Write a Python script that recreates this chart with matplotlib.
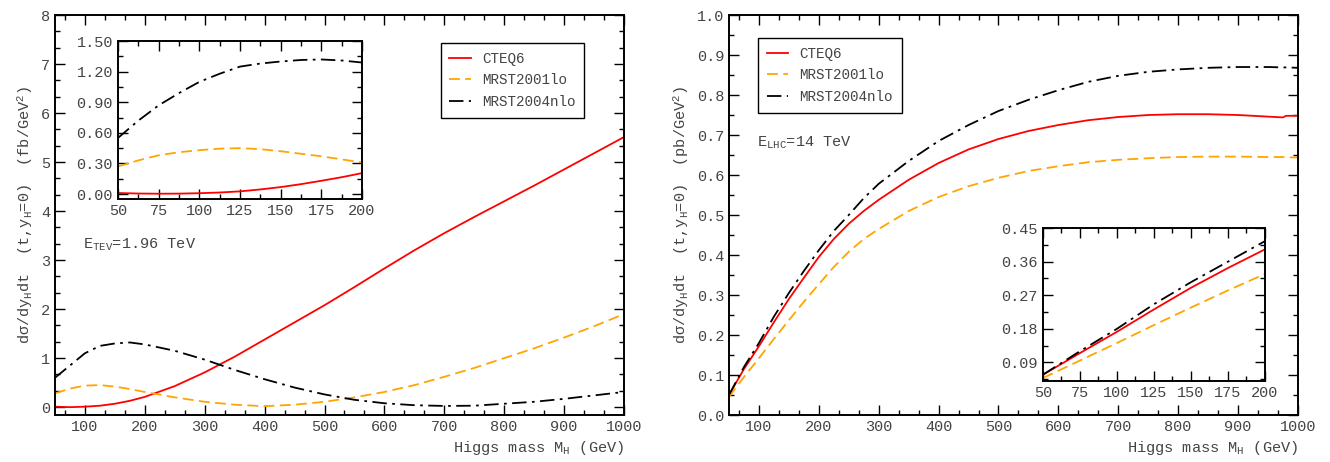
import matplotlib
matplotlib.use('Agg')
import matplotlib.pyplot as plt
from matplotlib.ticker import MultipleLocator, FixedLocator, FormatStrFormatter

# Tevatron, main panel (fb/GeV^2)
mh_tev = [50, 75, 100, 125, 150, 175, 200, 250, 300, 350, 400, 450, 500, 550,
          600, 650, 700, 750, 800, 850, 900, 950, 1000]
cteq6_tev = [0.01, 0.0, 0.01, 0.03, 0.07, 0.13, 0.21, 0.43, 0.71, 1.03, 1.38, 1.73,
             2.08, 2.45, 2.83, 3.2, 3.55, 3.88, 4.2, 4.52, 4.85, 5.18, 5.51]
mrst01_tev = [0.28, 0.38, 0.44, 0.45, 0.42, 0.37, 0.31, 0.2, 0.11, 0.05, 0.02, 0.05,
              0.11, 0.2, 0.31, 0.45, 0.62, 0.8, 1.0, 1.2, 1.42, 1.65, 1.9]
mrst04_tev = [0.6, 0.85, 1.1, 1.25, 1.3, 1.32, 1.28, 1.15, 0.97, 0.76, 0.57, 0.4,
              0.26, 0.15, 0.08, 0.04, 0.025, 0.03, 0.07, 0.11, 0.17, 0.24, 0.31]

# Tevatron, inset 50-200 GeV
mh_tev_in = [50, 62.5, 75, 87.5, 100, 112.5, 125, 137.5, 150, 162.5, 175, 187.5, 200]
cteq6_tev_in = [0.01, 0.005, 0.003, 0.004, 0.008, 0.015, 0.026, 0.045, 0.068, 0.097,
                0.13, 0.165, 0.205]
mrst01_tev_in = [0.27, 0.33, 0.38, 0.41, 0.43, 0.445, 0.45, 0.44, 0.42, 0.395, 0.37,
                 0.34, 0.31]
mrst04_tev_in = [0.55, 0.72, 0.87, 0.99, 1.1, 1.18, 1.25, 1.28, 1.30, 1.315, 1.32,
                 1.31, 1.29]

# LHC, main panel (pb/GeV^2)
mh_lhc = [50, 75, 100, 125, 150, 175, 200, 225, 250, 275, 300, 350, 400, 450, 500,
          550, 600, 650, 700, 750, 800, 850, 900, 950, 975, 980, 1000]
cteq6_lhc = [0.05, 0.115, 0.172, 0.232, 0.29, 0.343, 0.395, 0.44, 0.478, 0.51, 0.538,
             0.588, 0.63, 0.664, 0.69, 0.71, 0.725, 0.737, 0.745, 0.75, 0.752, 0.752,
             0.75, 0.746, 0.744, 0.748, 0.748]
mrst01_lhc = [0.045, 0.095, 0.142, 0.19, 0.237, 0.283, 0.327, 0.37, 0.408, 0.44, 0.465,
              0.51, 0.545, 0.572, 0.593, 0.61, 0.622, 0.632, 0.638, 0.642, 0.645,
              0.646, 0.646, 0.645, 0.645, 0.644, 0.644]
mrst04_lhc = [0.05, 0.12, 0.18, 0.246, 0.305, 0.36, 0.412, 0.46, 0.5, 0.542, 0.578,
              0.635, 0.685, 0.725, 0.76, 0.788, 0.812, 0.833, 0.848, 0.858, 0.864,
              0.868, 0.87, 0.87, 0.869, 0.869, 0.868]

# LHC, inset 50-200 GeV
mh_lhc_in = [50, 75, 100, 125, 150, 175, 200]
cteq6_lhc_in = [0.057, 0.115, 0.172, 0.232, 0.29, 0.343, 0.393]
mrst01_lhc_in = [0.048, 0.095, 0.142, 0.19, 0.237, 0.283, 0.327]
mrst04_lhc_in = [0.057, 0.12, 0.18, 0.246, 0.305, 0.36, 0.415]

labels = ['CTEQ6', 'MRST2001lo', 'MRST2004nlo']
colors = ['#ff0000', '#ffa500', 'black']
styles = ['-', (0, (6, 3)), (0, (8, 3, 1.5, 3))]

plt.rcParams['font.family'] = ['Liberation Mono', 'DejaVu Sans']
plt.rcParams['mathtext.default'] = 'regular'
plt.rcParams['font.size'] = 11
txtcol = '#444444'

fig = plt.figure(figsize=(13.3, 4.62), dpi=100)


def style_axes(ax, xmaj, xmin, ymaj, ymin):
    ax.xaxis.set_major_locator(xmaj)
    ax.xaxis.set_minor_locator(xmin)
    ax.yaxis.set_major_locator(ymaj)
    ax.yaxis.set_minor_locator(ymin)
    ax.tick_params(which='both', direction='in', top=True, right=True,
                   labelcolor=txtcol, width=1.0)
    ax.tick_params(which='major', length=7)
    ax.tick_params(which='minor', length=3.5)
    for s in ax.spines.values():
        s.set_linewidth(1.4)


def draw(ax, x, ys):
    for y, lab, c, ls in zip(ys, labels, colors, styles):
        ax.plot(x, y, color=c, linestyle=ls, linewidth=1.3, label=lab)


def add_legend(ax, anchor):
    leg = ax.legend(loc='upper left', bbox_to_anchor=anchor, fancybox=False,
                    edgecolor='black', framealpha=1, handlelength=1.5,
                    handletextpad=0.8, labelspacing=0.55, borderpad=0.6,
                    borderaxespad=0, prop={'size': 10.3})
    leg.get_frame().set_linewidth(1.0)
    for t in leg.get_texts():
        t.set_color(txtcol)


# ---- Tevatron panel
ax1 = fig.add_axes([0.04135, 0.1017, 0.4278, 0.8658])
draw(ax1, mh_tev, [cteq6_tev, mrst01_tev, mrst04_tev])
ax1.set_xlim(50, 1000)
ax1.set_ylim(-0.16, 8)
style_axes(ax1, FixedLocator(range(100, 1001, 100)), MultipleLocator(100 / 3),
           MultipleLocator(1), MultipleLocator(1 / 3))
ax1.set_xlabel('Higgs mass M$_{H}$ (GeV)', loc='right', color=txtcol)
ax1.set_ylabel('d$\\sigma$/dy$_{H}$dt  (t,y$_{H}$=0)  (fb/GeV$^{2}$)', color=txtcol)
ax1.text(0.049, 0.425, 'E$_{TEV}$=1.96 TeV', transform=ax1.transAxes, color=txtcol,
         va='center')
add_legend(ax1, (0.678, 0.93))

ins1 = fig.add_axes([0.0887, 0.569, 0.1835, 0.342])
draw(ins1, mh_tev_in, [cteq6_tev_in, mrst01_tev_in, mrst04_tev_in])
ins1.set_xlim(50, 200)
ins1.set_ylim(-0.05, 1.5)
style_axes(ins1, MultipleLocator(25), MultipleLocator(12.5),
           MultipleLocator(0.3), MultipleLocator(0.15))
ins1.yaxis.set_major_formatter(FormatStrFormatter('%.2f'))

# ---- LHC panel
ax2 = fig.add_axes([0.5481, 0.1017, 0.4278, 0.8658])
draw(ax2, mh_lhc, [cteq6_lhc, mrst01_lhc, mrst04_lhc])
ax2.set_xlim(50, 1000)
ax2.set_ylim(0, 1.0)
style_axes(ax2, FixedLocator(range(100, 1001, 100)), MultipleLocator(100 / 3),
           MultipleLocator(0.1), MultipleLocator(0.05))
ax2.yaxis.set_major_formatter(FormatStrFormatter('%.1f'))
ax2.set_xlabel('Higgs mass M$_{H}$ (GeV)', loc='right', color=txtcol)
ax2.set_ylabel('d$\\sigma$/dy$_{H}$dt  (t,y$_{H}$=0)  (pb/GeV$^{2}$)', color=txtcol)
ax2.text(0.049, 0.68, 'E$_{LHC}$=14 TeV', transform=ax2.transAxes, color=txtcol,
         va='center')
add_legend(ax2, (0.051, 0.9425))

ins2 = fig.add_axes([0.7842, 0.1753, 0.1669, 0.331])
draw(ins2, mh_lhc_in, [cteq6_lhc_in, mrst01_lhc_in, mrst04_lhc_in])
ins2.set_xlim(50, 200)
ins2.set_ylim(0.04, 0.45)
style_axes(ins2, MultipleLocator(25), MultipleLocator(12.5),
           FixedLocator([0.09, 0.18, 0.27, 0.36, 0.45]), MultipleLocator(0.045))
ins2.yaxis.set_major_formatter(FormatStrFormatter('%.2f'))

fig.savefig('out.png', dpi=100)
